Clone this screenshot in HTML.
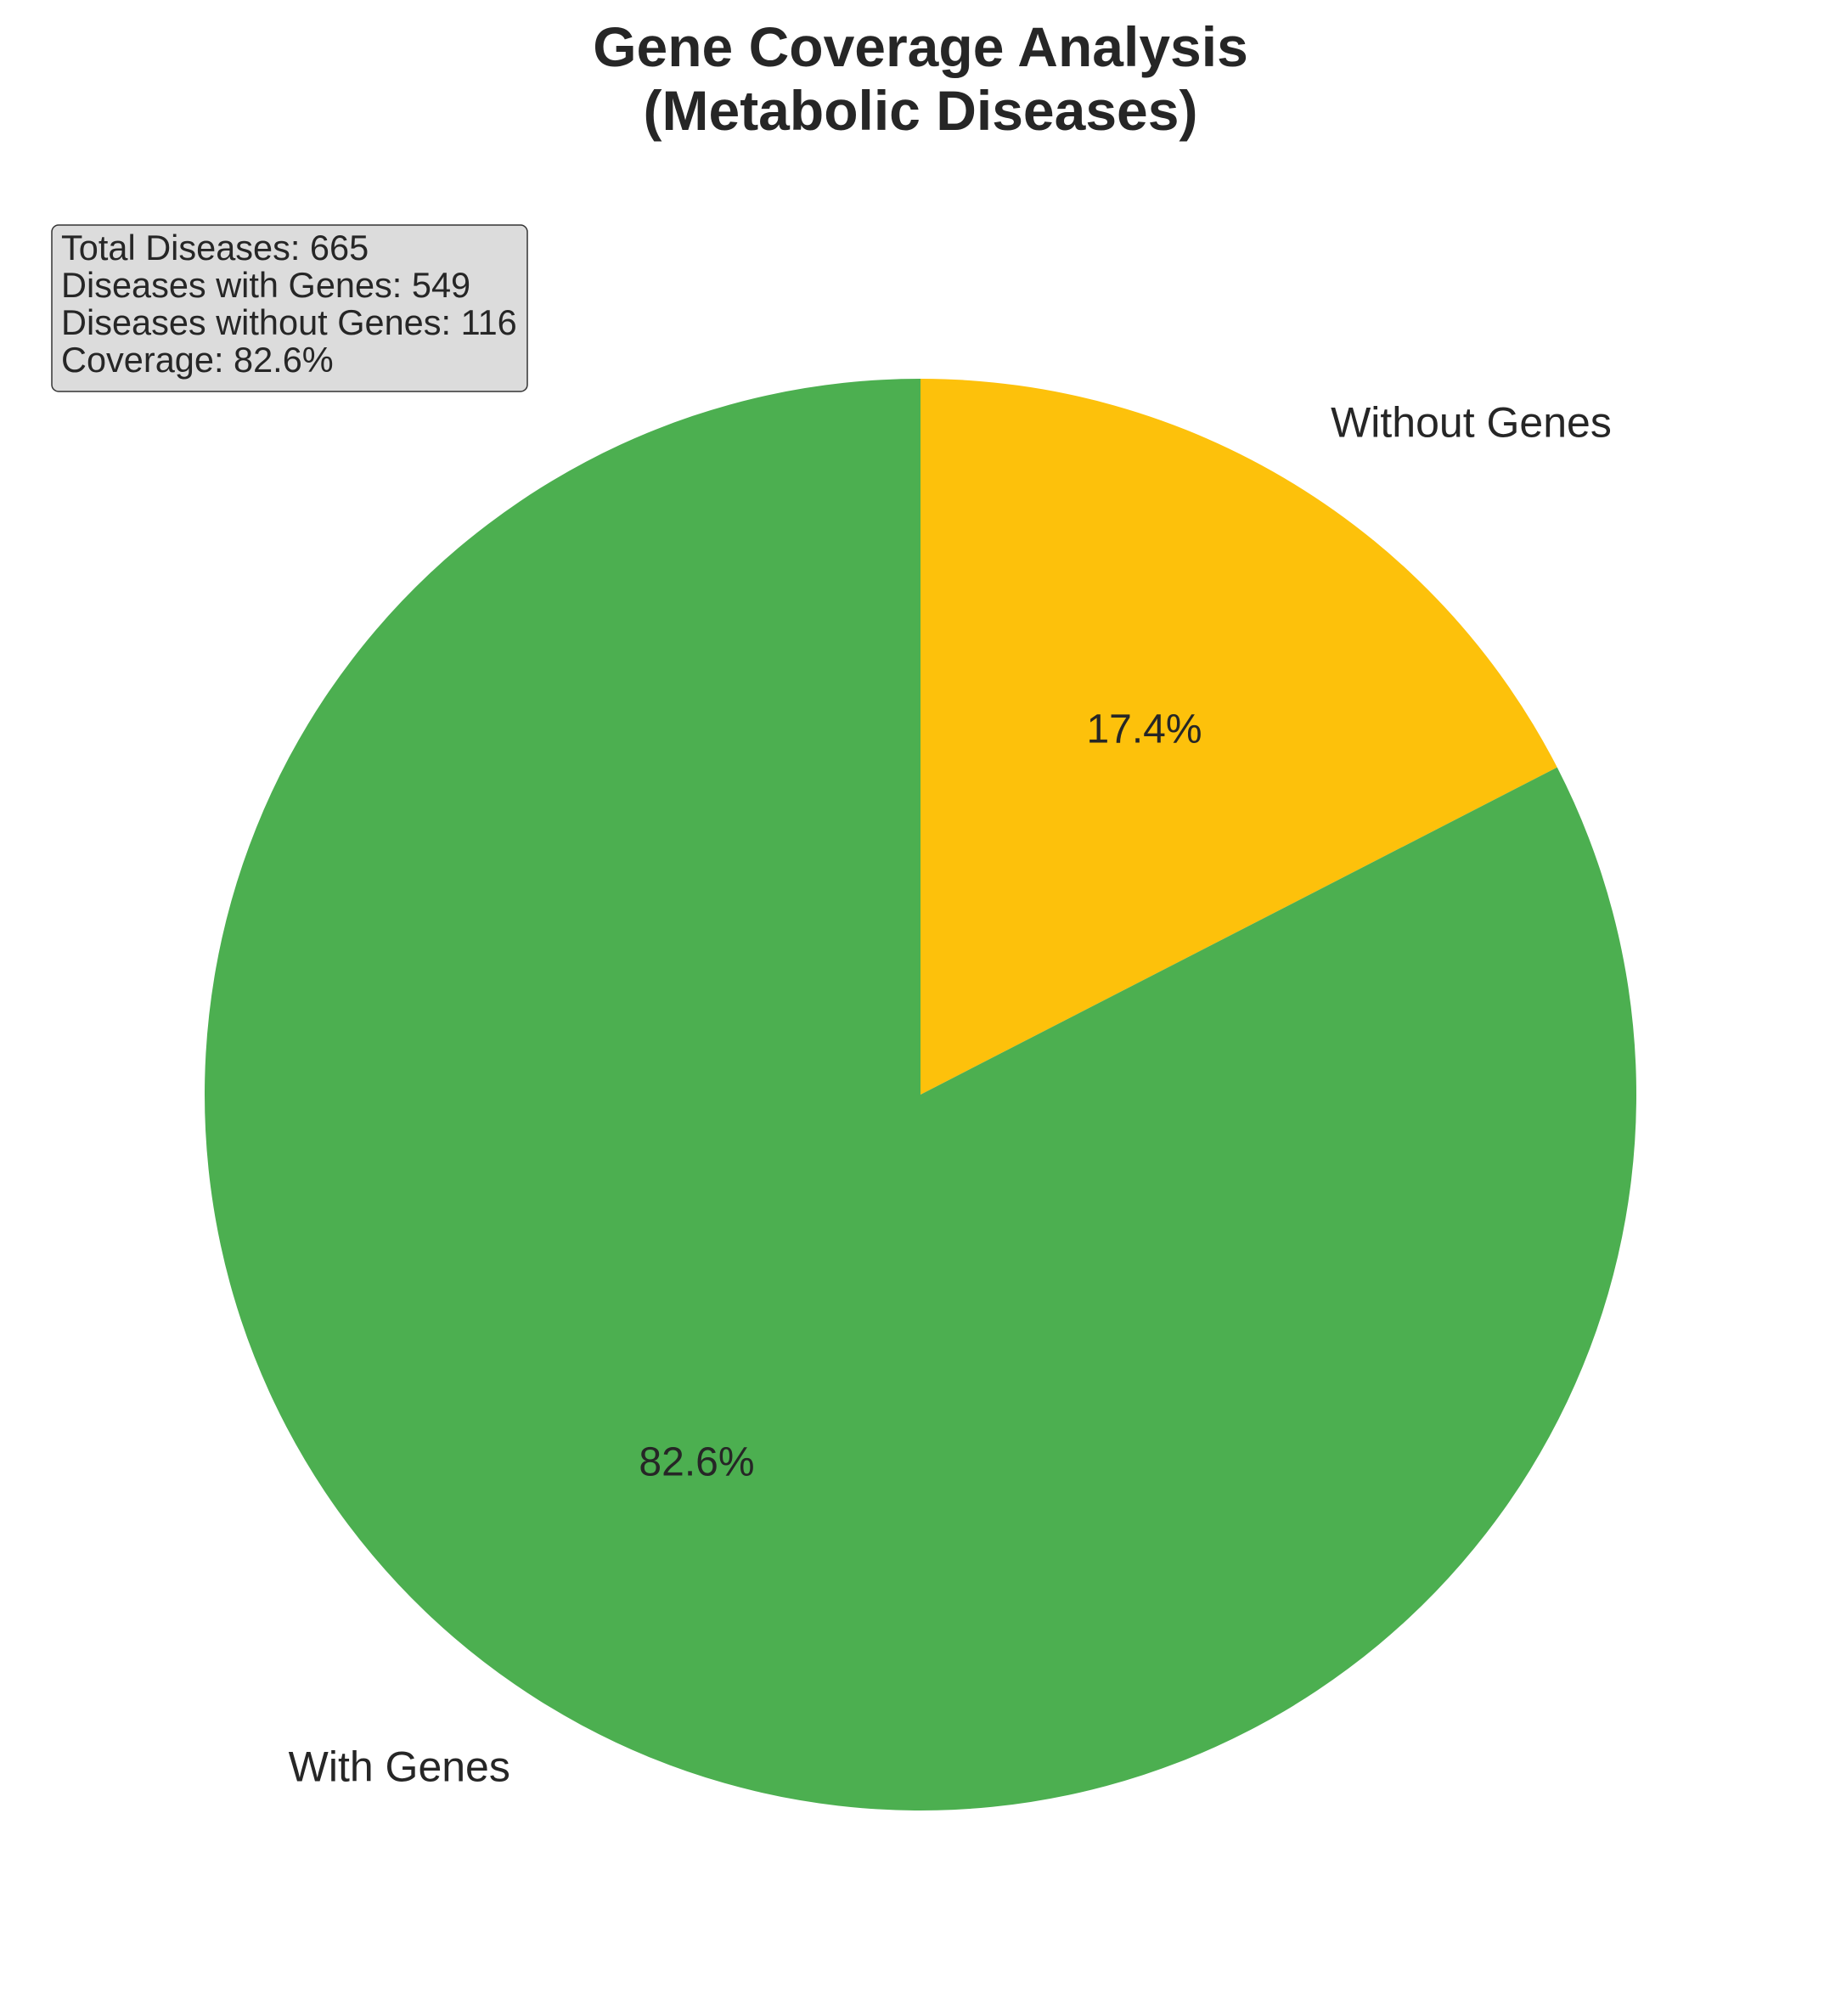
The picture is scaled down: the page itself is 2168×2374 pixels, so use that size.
<!DOCTYPE html>
<html><head><meta charset="utf-8"><style>
html,body{margin:0;padding:0;background:#fff;}
svg{display:block;font-family:"Liberation Sans",Arial,sans-serif;}
</style></head><body>
<svg id="chart" width="2168" height="2374" viewBox="0 0 2168 2374">
<text x="1084" y="78" text-anchor="middle" font-size="66" font-weight="bold" fill="#262626">Gene Coverage Analysis</text>
<text x="1084" y="153" text-anchor="middle" font-size="66" font-weight="bold" fill="#262626">(Metabolic Diseases)</text>
<g id="slices"></g>
<g>
<rect x="61" y="265" width="560" height="196" rx="8" fill="#dcdcdc" stroke="#333" stroke-width="1.5"/>
<text x="72" y="306" font-size="41.5" fill="#262626">Total Diseases: 665</text>
<text x="72" y="350" font-size="41.5" fill="#262626">Diseases with Genes: 549</text>
<text x="72" y="394" font-size="41.5" fill="#262626">Diseases without Genes: 116</text>
<text x="72" y="438" font-size="41.5" fill="#262626">Coverage: 82.6%</text>
</g>
</svg>
<script>
const categories = ["Without Genes", "With Genes"];
const values = [116, 549];
const colors = ["#fdc10b", "#4caf50"];
const cx = 1084, cy = 1289, r = 843;
const g = document.getElementById('slices');
const NS = 'http://www.w3.org/2000/svg';
const total = values.reduce((a,b)=>a+b,0);
let start = 0;
function pt(deg, rad){ const a = deg*Math.PI/180; return [cx + rad*Math.sin(a), cy - rad*Math.cos(a)]; }
values.forEach((v,i)=>{
  const sweep = v/total*360;
  const end = start + sweep;
  const p1 = pt(start, r), p2 = pt(end, r);
  const path = document.createElementNS(NS,'path');
  path.setAttribute('d', `M${cx},${cy} L${p1[0]},${p1[1]} A${r},${r} 0 ${sweep>180?1:0} 1 ${p2[0]},${p2[1]} Z`);
  path.setAttribute('fill', colors[i]);
  
  
  g.appendChild(path);
  const mid = start + sweep/2;
  const lp = pt(mid, r*1.1);
  const lab = document.createElementNS(NS,'text');
  lab.setAttribute('x', lp[0]); lab.setAttribute('y', lp[1]+17);
  lab.setAttribute('text-anchor', Math.sin(mid*Math.PI/180) >= 0 ? 'start' : 'end');
  lab.setAttribute('font-size','50'); lab.setAttribute('fill','#262626');
  lab.textContent = categories[i];
  
  
  g.appendChild(lab);
  const pp = pt(mid, r*0.6);
  const pct = document.createElementNS(NS,'text');
  pct.setAttribute('x', pp[0]); pct.setAttribute('y', pp[1]+17);
  pct.setAttribute('text-anchor','middle');
  pct.setAttribute('font-size','48'); pct.setAttribute('fill','#262626');
  pct.textContent = (v/total*100).toFixed(1) + '%';
  
  
  g.appendChild(pct);
  start = end;
});
</script>
</body></html>
